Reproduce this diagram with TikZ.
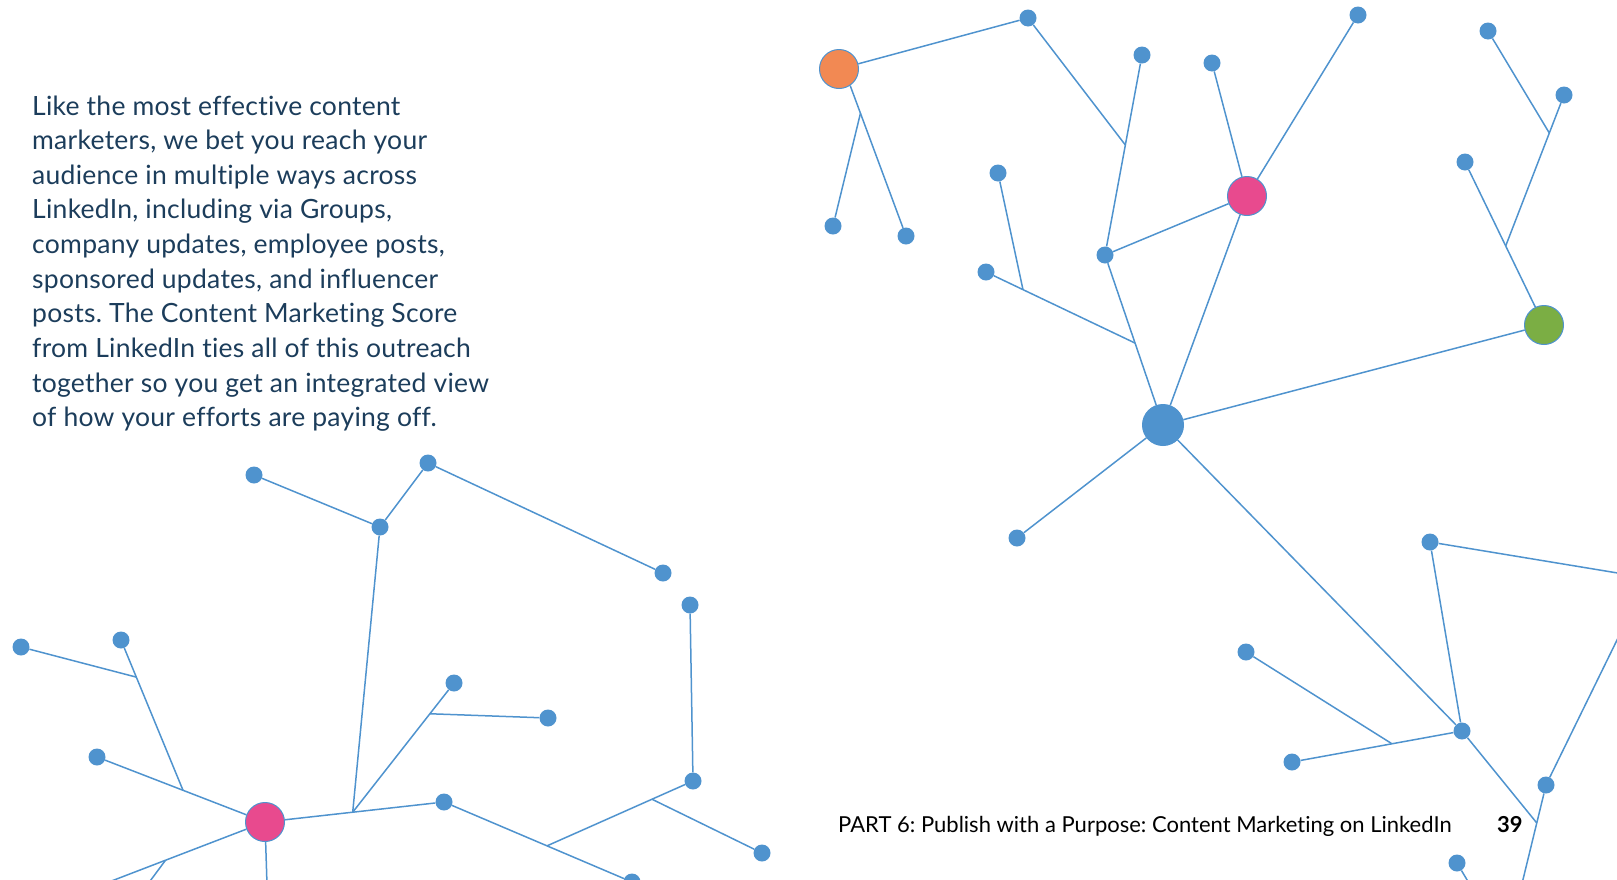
\documentclass[tikz,border=0pt]{standalone}
\usepackage{fontspec}
\setmainfont{Lato}[Ligatures={NoCommon}]
\newfontfamily\bodyfont{Lato}[Ligatures={NoCommon},LetterSpace=1.0]
\usetikzlibrary{calc}
\definecolor{nb}{HTML}{4F93CE}
\definecolor{pinkc}{HTML}{E84A8E}
\definecolor{orangec}{HTML}{F28953}
\definecolor{greenc}{HTML}{7BAE44}
\definecolor{bodytext}{HTML}{1C3D5B}
\frenchspacing
\begin{document}
\begin{tikzpicture}[x=1pt,y=-1pt,
  dot/.style={circle,fill=nb,inner sep=0pt,minimum size=17pt},
  hub/.style={circle,draw=nb,line width=1pt,inner sep=0pt,minimum size=39pt},
  link/.style={draw=nb,line width=1.5pt},
  body/.style={anchor=base west,inner sep=0pt,font=\bodyfont\fontsize{26.5}{34}\selectfont,text=bodytext},
  foot/.style={anchor=base west,inner sep=0pt,font=\fontsize{22}{26}\selectfont,text=black},
]
\useasboundingbox (0,0) rectangle (1617,879);
\clip (0,0) rectangle (1617,879);

% ---------- text ----------
\foreach \t [count=\i] in {
  {Like the most effective content},
  {marketers, we bet you reach your},
  {audience in multiple ways across},
  {LinkedIn, including via Groups,},
  {company updates, employee posts,},
  {sponsored updates, and influencer},
  {posts. The Content Marketing Score},
  {from LinkedIn ties all of this outreach},
  {together so you get an integrated view},
  {of how your efforts are paying off.}}
  \node[body] (line\i) at (32,{115+(\i-1)*34.65}) {\t};

\node[foot] (footer) at (838,832.5) {PART 6: Publish with a Purpose: Content Marketing on LinkedIn};
\node[foot,font=\fontsize{22}{26}\selectfont\bfseries] (page) at (1497,832.5) {39};

% ---------- top-right cluster nodes ----------
\node[hub,fill=orangec] (o) at (839,69) {};
\node[dot] (n1) at (1028,18) {};
\node[dot] (n2) at (833,226) {};
\node[dot] (n3) at (906,236) {};
\node[dot] (n4) at (1142,55) {};
\node[dot] (n5) at (1105,255) {};
\node[hub,fill=pinkc] (p2) at (1247,196) {};
\node[dot] (n6) at (1212,63) {};
\node[dot] (n7) at (1358,15) {};
\node[hub,fill=nb,minimum size=41pt] (h) at (1163,425) {};
\node[dot] (n8) at (986,272) {};
\node[dot] (n9) at (998,173) {};
\node[hub,fill=greenc] (g) at (1544,325) {};
\node[dot] (n10) at (1465,162) {};
\node[dot] (n11) at (1564,95) {};
\node[dot] (n12) at (1488,31) {};
\node[dot] (n13) at (1017,538) {};
\node[dot] (n14) at (1462,731) {};
\node[dot] (n15) at (1430,542) {};
\node[dot] (n16) at (1546,785) {};
\node[dot] (n17) at (1246,652) {};
\node[dot] (n18) at (1292,762) {};
\node[dot] (n19) at (1457,863) {};

\coordinate (off1) at (1660,580);
\coordinate (off2) at (1641.5,590);
\coordinate (off3) at (1518,900);
\coordinate (off4) at (1479,900);

% ---------- bottom-left cluster nodes ----------
\node[dot] (b1) at (254,475) {};
\node[dot] (b2) at (428,463) {};
\node[dot] (b3) at (380,527) {};
\node[dot] (b4) at (663,573) {};
\node[dot] (b5) at (454,683) {};
\node[dot] (b6) at (548,718) {};
\node[dot] (b7) at (690,605) {};
\node[dot] (b8) at (693,781) {};
\node[dot] (b9) at (21,647) {};
\node[dot] (b10) at (121,640) {};
\node[dot] (b11) at (97,757) {};
\node[hub,fill=pinkc] (p1) at (265,822) {};
\node[dot] (b12) at (444,802) {};
\node[dot] (b13) at (632,882) {};
\node[dot] (b14) at (762,853) {};

\coordinate (off5) at (267.5,900);
\coordinate (off6) at (62,900);

% ---------- top-right connectors ----------
\draw[link] (o) -- (n1);
\draw[link] (o.-56) -- (n3);
\coordinate (jo) at ($(o.-56)!0.184!(n3)$);
\draw[link] (jo) -- (n2);
\draw[link] (n4) -- (n5);
\coordinate (j1) at ($(n4)!0.45!(n5)$);
\draw[link] (n1) -- (j1);
\draw[link] (n5) -- (p2);
\draw[link] (n6) -- (p2);
\draw[link] (n7) -- (p2);
\draw[link] (p2) -- (h);
\draw[link] (n5) -- (h);
\coordinate (j2) at ($(n5)!0.518!(h)$);
\draw[link] (n8) -- (j2);
\coordinate (j3) at ($(n8)!0.248!(j2)$);
\draw[link] (n9) -- (j3);
\draw[link] (h) -- (g);
\draw[link] (h) -- (n13);
\draw[link] (h) -- (n14);
\draw[link] (n10) -- (g);
\coordinate (j4) at ($(n10)!0.515!(g)$);
\draw[link] (j4) -- (n11);
\coordinate (j5) at ($(j4)!0.748!(n11)$);
\draw[link] (n12) -- (j5);
\draw[link] (n15) -- (n14);
\draw[link] (n15) -- (off1);
\draw[link] (off2) -- (n16);
\draw[link] (n16) -- (off3);
\coordinate (j6) at ($(n16)!0.33!(off3)$);
\draw[link] (n14) -- (j6);
\draw[link] (n18) -- (n14);
\coordinate (j7) at ($(n18)!0.588!(n14)$);
\draw[link] (n17) -- (j7);
\draw[link] (n19) -- (off4);

% ---------- bottom-left connectors ----------
\draw[link] (b1) -- (b3);
\draw[link] (b3) -- (b2);
\draw[link] (b2) -- (b4);
\draw[link] (p1) -- (b12);
\coordinate (k1) at ($(p1)!0.49!(b12)$);
\draw[link] (b3) -- (k1);
\draw[link] (k1) -- (b5);
\coordinate (k2) at ($(k1)!0.762!(b5)$);
\draw[link] (k2) -- (b6);
\draw[link] (b7) -- (b8);
\draw[link] (b12) -- (b13);
\coordinate (k3) at ($(b12)!0.548!(b13)$);
\draw[link] (k3) -- (b8);
\coordinate (k4) at ($(k3)!0.719!(b8)$);
\draw[link] (k4) -- (b14);
\draw[link] (b11) -- (p1);
\coordinate (k5) at ($(b11)!0.512!(p1)$);
\draw[link] (b10) -- (k5);
\coordinate (k6) at ($(b10)!0.247!(k5)$);
\draw[link] (b9) -- (k6);
\draw[link] (p1) -- (off5);
\draw[link] (p1) -- (off6);
\coordinate (k7) at ($(p1)!0.49!(off6)$);
\coordinate (off7) at (136,900);
\draw[link] (k7) -- (off7);
\end{tikzpicture}
\end{document}
